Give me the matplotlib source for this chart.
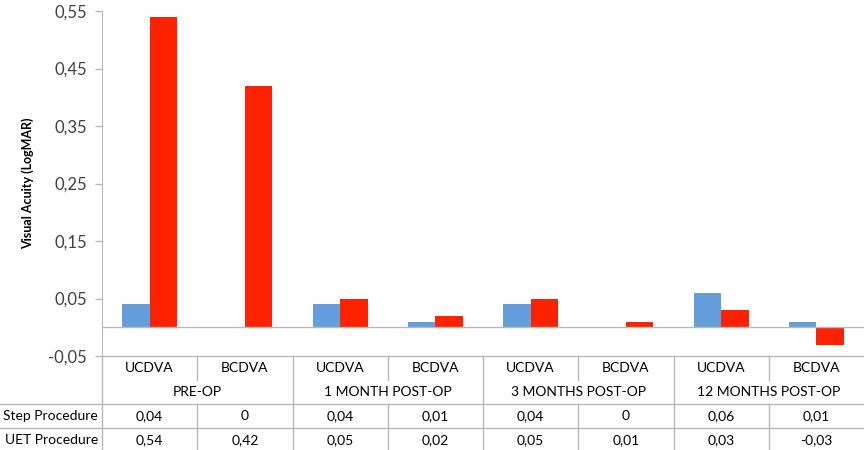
import matplotlib
matplotlib.use("Agg")
import matplotlib.pyplot as plt
import matplotlib.transforms as mtransforms
import numpy as np

plt.rcParams['font.family'] = ['Lato', 'DejaVu Sans']

# data
groups = ["PRE-OP", "1 MONTH POST-OP", "3 MONTHS POST-OP", "12 MONTHS POST-OP"]
measures = ["UCDVA", "BCDVA"]
series_names = ["Step Procedure", "UET Procedure"]
step_values = [0.04, 0, 0.04, 0.01, 0.04, 0, 0.06, 0.01]
uet_values = [0.54, 0.42, 0.05, 0.02, 0.05, 0.01, 0.03, -0.03]
y_ticks = [-0.05, 0.05, 0.15, 0.25, 0.35, 0.45, 0.55]

blue = "#659FDB"
red = "#FF2200"
grid_col = "#B8B8B8"
txt_col = "#404040"


def fmt(v):
    return ("%g" % round(v, 2)).replace(".", ",")


W, H = 864, 450
fig = plt.figure(figsize=(W / 100, H / 100), dpi=100)

x_left = 102
ax_top = 11
ax_bot = 356
ax = fig.add_axes([x_left / W, 1 - ax_bot / H, (W - x_left) / W, (ax_bot - ax_top) / H])

n = len(step_values)
x = np.arange(n)
bw = 0.29
ax.bar(x - bw / 2, step_values, bw, color=blue)
ax.bar(x + bw / 2, uet_values, bw, color=red)
ax.axhline(0, color=grid_col, lw=1)

ax.set_xlim(-0.5, n - 0.5)
ax.set_ylim(-0.05, 0.55)
ax.set_yticks(y_ticks)
ax.set_yticklabels([fmt(t) for t in y_ticks], color=txt_col, fontsize=12)
ax.tick_params(axis='y', length=5, width=1, color=grid_col, pad=6)
ax.set_xticks([])
for s in ['top', 'right', 'bottom']:
    ax.spines[s].set_visible(False)
ax.spines['left'].set_color(grid_col)
ax.set_ylabel("Visual Acuity (LogMAR)", fontsize=9, fontweight='bold', color='black', labelpad=10)

# data table below the axes
row_h = 24
tab = fig.add_axes([x_left / W, 0, (W - x_left) / W, (H - ax_bot) / H])
tab.set_xlim(-0.5, n - 0.5)
nrows = (H - ax_bot) / row_h
tab.set_ylim(nrows, 0)
tab.axis('off')

lk = dict(color=grid_col, lw=1, clip_on=False)
tab.plot([-0.5, n - 0.5], [0, 0], **lk)
for g in range(len(groups)):
    gx = -0.5 + 2 * g
    tab.plot([gx, gx], [0, nrows], **lk)
    tab.plot([gx + 1, gx + 1], [0, 1], **lk)
    tab.plot([gx + 1, gx + 1], [2, nrows], **lk)

blend = mtransforms.blended_transform_factory(fig.transFigure, tab.transData)
for yy in [2, 3]:
    tab.plot([0, 1], [yy, yy], transform=blend, **lk)

tk = dict(ha='center', va='center', fontsize=10, color='black')
for i in range(n):
    tab.text(i, 0.5, measures[i % 2], **tk)
    tab.text(i, 2.5, fmt(step_values[i]), **tk)
    tab.text(i, 3.5, fmt(uet_values[i]), **tk)
for g, name in enumerate(groups):
    tab.text(2 * g + 0.5, 1.5, name, **tk)

off = mtransforms.offset_copy(tab.transData, fig=fig, x=-4, y=0, units='dots')
for r, name in enumerate(series_names):
    tab.text(-0.5, 2.5 + r, name, transform=off, ha='right', va='center', fontsize=10, color='black')

fig.savefig("out.png", dpi=100)
